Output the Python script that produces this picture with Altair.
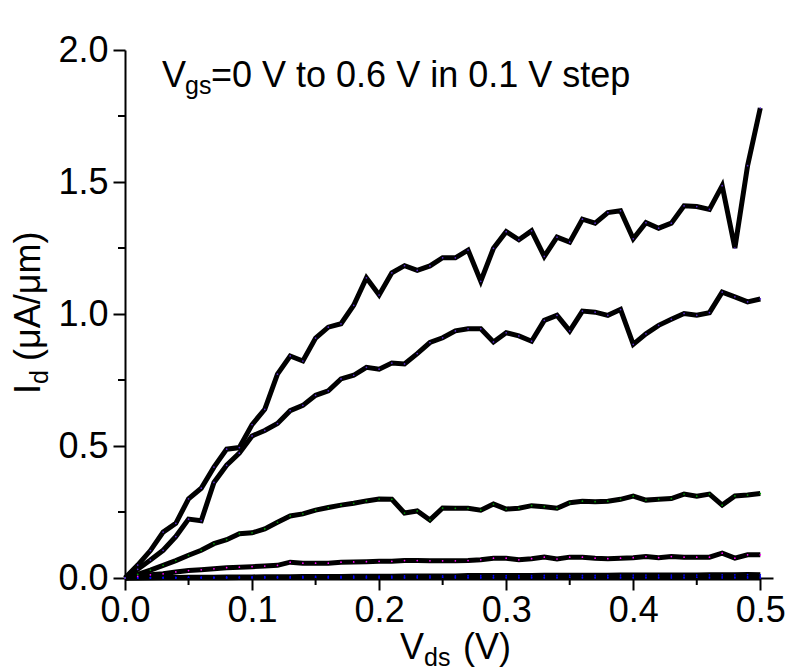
import altair as alt
import pandas as pd

# ---------------- data ----------------
vds = [0.00, 0.01, 0.02, 0.03, 0.04, 0.05, 0.06, 0.07, 0.08, 0.09,
       0.10, 0.11, 0.12, 0.13, 0.14, 0.15, 0.16, 0.17, 0.18, 0.19,
       0.20, 0.21, 0.22, 0.23, 0.24, 0.25, 0.26, 0.27, 0.28, 0.29,
       0.30, 0.31, 0.32, 0.33, 0.34, 0.35, 0.36, 0.37, 0.38, 0.39,
       0.40, 0.41, 0.42, 0.43, 0.44, 0.45, 0.46, 0.47, 0.48, 0.49, 0.50]

id_06 = [0.000, 0.049, 0.104, 0.174, 0.207, 0.300, 0.340, 0.420, 0.488, 0.494,
         0.581, 0.639, 0.772, 0.841, 0.822, 0.909, 0.950, 0.963, 1.033, 1.137,
         1.072, 1.156, 1.183, 1.165, 1.182, 1.213, 1.213, 1.242, 1.124, 1.249,
         1.312, 1.281, 1.315, 1.218, 1.291, 1.272, 1.359, 1.344, 1.384, 1.391,
         1.285, 1.346, 1.325, 1.344, 1.410, 1.407, 1.396, 1.486, 1.250, 1.562, 1.780]

id_05 = [0.000, 0.033, 0.068, 0.105, 0.157, 0.223, 0.217, 0.362, 0.427, 0.473,
         0.538, 0.559, 0.585, 0.634, 0.654, 0.692, 0.709, 0.754, 0.768, 0.798,
         0.791, 0.814, 0.811, 0.850, 0.892, 0.910, 0.936, 0.944, 0.944, 0.894,
         0.929, 0.917, 0.897, 0.976, 0.995, 0.936, 1.011, 1.007, 0.995, 1.017,
         0.885, 0.925, 0.957, 0.980, 1.002, 0.995, 1.005, 1.083, 1.065, 1.046, 1.057]

id_04 = [0.000, 0.014, 0.030, 0.048, 0.066, 0.086, 0.105, 0.130, 0.145, 0.168,
         0.171, 0.186, 0.211, 0.235, 0.243, 0.257, 0.267, 0.276, 0.283, 0.292,
         0.299, 0.298, 0.246, 0.254, 0.220, 0.265, 0.264, 0.264, 0.257, 0.280,
         0.261, 0.264, 0.274, 0.270, 0.264, 0.285, 0.291, 0.289, 0.291, 0.298,
         0.310, 0.295, 0.298, 0.301, 0.318, 0.310, 0.318, 0.276, 0.311, 0.314, 0.320]

id_03 = [0.000, 0.006, 0.012, 0.016, 0.023, 0.028, 0.031, 0.035, 0.039, 0.041,
         0.043, 0.045, 0.048, 0.060, 0.056, 0.056, 0.056, 0.060, 0.061, 0.062,
         0.063, 0.063, 0.066, 0.066, 0.065, 0.065, 0.065, 0.066, 0.069, 0.075,
         0.075, 0.069, 0.073, 0.079, 0.072, 0.079, 0.079, 0.075, 0.073, 0.075,
         0.077, 0.081, 0.077, 0.081, 0.079, 0.079, 0.079, 0.094, 0.075, 0.088, 0.088]

id_02 = [0.000, 0.001, 0.001, 0.002, 0.002, 0.003, 0.003, 0.003, 0.004, 0.004,
         0.004, 0.005, 0.005, 0.005, 0.006, 0.006, 0.006, 0.006, 0.007, 0.007,
         0.007, 0.007, 0.008, 0.008, 0.008, 0.008, 0.008, 0.009, 0.009, 0.009,
         0.009, 0.009, 0.009, 0.010, 0.010, 0.010, 0.010, 0.010, 0.010, 0.011,
         0.011, 0.011, 0.011, 0.011, 0.011, 0.011, 0.012, 0.012, 0.012, 0.013, 0.012]

id_01 = [0.000, 0.000, 0.001, 0.001, 0.001, 0.001, 0.001, 0.001, 0.001, 0.002,
         0.002, 0.002, 0.002, 0.002, 0.002, 0.002, 0.002, 0.002, 0.002, 0.002,
         0.002, 0.002, 0.002, 0.003, 0.003, 0.003, 0.003, 0.003, 0.003, 0.003,
         0.003, 0.003, 0.003, 0.003, 0.003, 0.003, 0.003, 0.003, 0.003, 0.003,
         0.003, 0.003, 0.003, 0.004, 0.003, 0.003, 0.003, 0.004, 0.003, 0.004, 0.004]

id_00 = [0.000, 0.000, 0.000, 0.000, 0.000, 0.000, 0.000, 0.000, 0.000, 0.000,
         0.000, 0.000, 0.000, 0.000, 0.000, 0.000, 0.000, 0.000, 0.000, 0.000,
         0.000, 0.000, 0.000, 0.000, 0.000, 0.000, 0.000, 0.000, 0.000, 0.000,
         0.000, 0.000, 0.000, 0.000, 0.000, 0.000, 0.000, 0.000, 0.000, 0.000,
         0.000, 0.000, 0.000, 0.000, 0.000, 0.000, 0.000, 0.000, 0.000, 0.000, 0.000]

series_names = ["0.0 V", "0.1 V", "0.2 V", "0.3 V", "0.4 V", "0.5 V", "0.6 V"]
series_values = [id_00, id_01, id_02, id_03, id_04, id_05, id_06]
dot_colors = ["#0000ff", "#0000ff", "#0000ff", "#ff00ff", "#00a000", "#5a2ad0", "#5a2ad0"]

x_ticks = [0.0, 0.1, 0.2, 0.3, 0.4, 0.5]
x_minor = [0.05, 0.15, 0.25, 0.35, 0.45]
y_ticks = [0.0, 0.5, 1.0, 1.5, 2.0]
y_minor = [0.25, 0.75, 1.25, 1.75]

rows = []
for name, vals in zip(series_names, series_values):
    for v, i in zip(vds, vals):
        rows.append({"vds": v, "id": i, "vgs": name})
df = pd.DataFrame(rows)

FONT = "Liberation Sans"
W, H = 648, 528

xscale = alt.Scale(domain=[0, 0.51], nice=False, zero=False)
yscale = alt.Scale(domain=[0, 2.0], nice=False, zero=False)

common_axis = dict(title=None, format=".1f", grid=False, tickSize=12, tickWidth=2,
                   domainWidth=2, domainColor="black", tickColor="black",
                   labelColor="black", labelFont=FONT, labelFontSize=36,
                   labelOverlap=False, labelFlush=False)
xaxis = alt.Axis(values=x_ticks, labelPadding=3, **common_axis)
yaxis = alt.Axis(values=y_ticks, labelPadding=5, **common_axis)

X = alt.X("vds:Q", scale=xscale, axis=xaxis)
Y = alt.Y("id:Q", scale=yscale, axis=yaxis)

lines = alt.Chart(df).mark_line(color="black", strokeWidth=5).encode(
    x=X, y=Y, detail="vgs:N"
)

dots = alt.Chart(df).mark_circle(size=3, opacity=1).encode(
    x=X, y=Y,
    color=alt.Color("vgs:N", scale=alt.Scale(domain=series_names, range=dot_colors), legend=None),
)

yminor = alt.Chart(pd.DataFrame({"id": y_minor})).mark_rule(color="black", strokeWidth=2).encode(
    y=Y, x=alt.value(-7), x2=alt.value(0)
)
xminor = alt.Chart(pd.DataFrame({"vds": x_minor})).mark_rule(color="black", strokeWidth=2).encode(
    x=X, y=alt.value(H), y2=alt.value(H + 7)
)

one = alt.Data(values=[{"k": 1}])


def txt(text, x, y, size, angle=0):
    return alt.Chart(one).mark_text(
        text=text, font=FONT, fontSize=size, align="left", baseline="alphabetic",
        color="black", angle=angle
    ).encode(x=alt.value(x), y=alt.value(y))


annot = [
    txt("V", 37, 37, 36),
    txt("gs", 60, 44, 25),
    txt("=0 V to 0.6 V in 0.1 V step", 86, 37, 36),
]
ytitle = [
    txt("I", -85, 344, 36, 270),
    txt("d", -77, 334, 25, 270),
    txt("(\u03bcA/\u03bcm)", -85, 311, 36, 270),
]
xtitle = [
    txt("V", 275, 609, 36),
    txt("ds", 299, 616, 25),
    txt("(V)", 338, 609, 36),
]

chart = alt.layer(lines, dots, yminor, xminor, *annot, *ytitle, *xtitle).properties(
    width=W, height=H,
    autosize=alt.AutoSizeParams(type="none"),
    padding={"left": 125, "top": 50, "right": 17, "bottom": 92},
    background="white",
).configure_view(stroke=None)

chart.save("out.html", embed_options={"renderer": "svg", "actions": False})
